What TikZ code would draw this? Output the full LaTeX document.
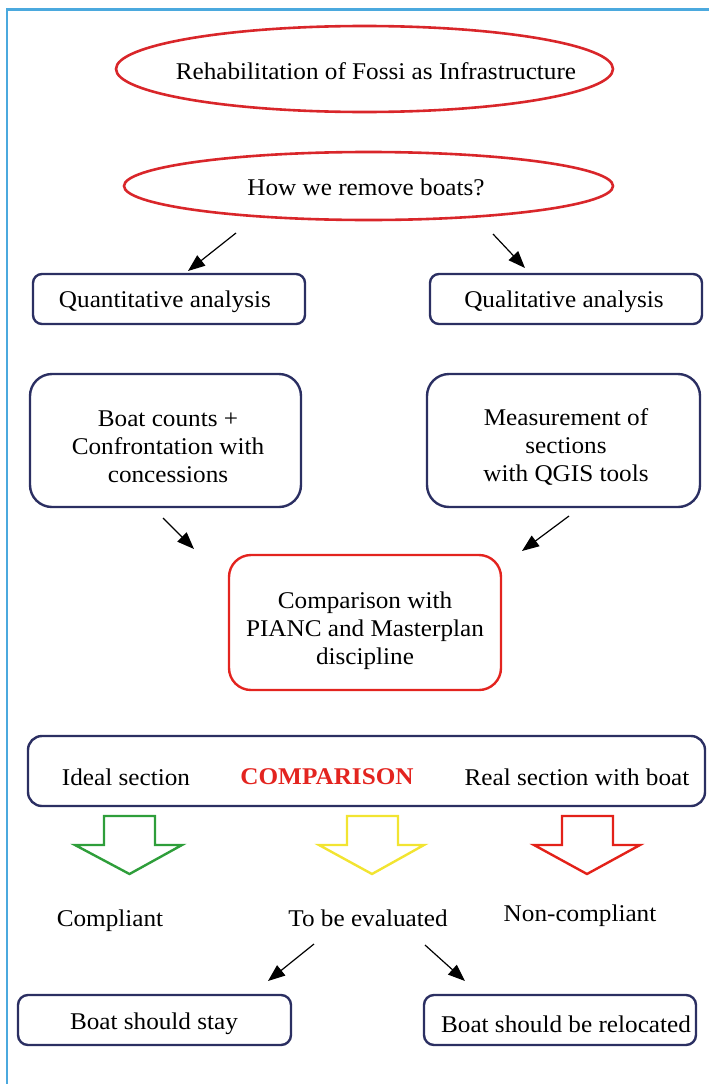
\documentclass[tikz,border=0pt]{standalone}
\usepackage{fontspec}
\setmainfont{Liberation Serif}[FakeStretch=1.05]
\usetikzlibrary{arrows.meta,shapes.geometric}
\definecolor{navy}{HTML}{2B2F62}
\definecolor{boxred}{HTML}{E3241F}
\definecolor{ellred}{HTML}{D9262A}
\definecolor{arrgreen}{HTML}{2E9E3A}
\definecolor{arryellow}{HTML}{F2E431}
\definecolor{arrred}{HTML}{E32119}
\definecolor{frameblue}{HTML}{4BA9DE}
\tikzset{
  txt/.style={font=\fontsize{24}{28}\selectfont, align=center, inner sep=0pt},
  ell/.style={ellipse, draw=ellred, line width=2.6pt, inner sep=0pt},
  navybox/.style={draw=navy, line width=2.4pt, inner sep=0pt},
  redbox/.style={draw=boxred, line width=2.4pt, inner sep=0pt, rounded corners=22pt},
  arr/.style={line width=1.2pt, -{Triangle[length=17pt,width=13pt]}},
  hollow/.style={line width=2.4pt, line join=miter},
}
\begin{document}
\begin{tikzpicture}[x=1pt,y=-1pt]
\useasboundingbox (0,0) rectangle (709,1084);
% frame
\draw[frameblue, line width=2.5pt] (7,1084) -- (7,9.5) -- (709,9.5);

% ellipses
\node[ell, minimum width=497pt, minimum height=86pt] (title) at (364.5,69) {};
\node[txt] (titletxt) at (376,71) {Rehabilitation of Fossi as Infrastructure};
\node[ell, minimum width=489pt, minimum height=68pt] (how) at (368.5,186) {};
\node[txt] (howtxt) at (366,187) {How we remove boats?};

% analysis boxes
\node[navybox, rounded corners=9pt, minimum width=272pt, minimum height=50pt] (quant) at (169,299) {};
\node[txt] (quanttxt) at (165,302) {Quantitative analysis};
\node[navybox, rounded corners=9pt, minimum width=272pt, minimum height=50pt] (qual) at (566,299) {};
\node[txt] (qualtxt) at (564,302) {Qualitative analysis};

% method boxes
\node[navybox, rounded corners=22pt, minimum width=271pt, minimum height=133pt] (counts) at (165.5,440.5) {};
\node[txt] (countstxt) at (168,447) {Boat counts +\\Confrontation with\\concessions};
\node[navybox, rounded corners=22pt, minimum width=273pt, minimum height=133pt] (meas) at (563.5,440.5) {};
\node[txt] (meastxt) at (566,447) {Measurement of\\sections\\with QGIS tools};

% comparison box
\node[redbox, minimum width=272pt, minimum height=135pt] (cmp) at (365,622.5) {};
\node[txt] (cmptxt) at (365,631) {Comparison with\\PIANC and Masterplan\\discipline};

% wide comparison box
\node[navybox, rounded corners=14pt, minimum width=677pt, minimum height=70pt] (wide) at (366.5,771) {};
\node[txt] (ideal) at (126,777) {Ideal section};
\node[txt, text=boxred, font=\fontsize{24}{28}\selectfont\bfseries] (comp) at (327,777) {COMPARISON};
\node[txt] (real) at (577,777) {Real section with boat};

% hollow arrows
\draw[hollow, draw=arrgreen] (104,816) -- (104,845) -- (75,845) -- (129.5,874) -- (182,845) -- (155,845) -- (155,816) -- cycle;
\draw[hollow, draw=arryellow] (347,816) -- (347,845) -- (319,845) -- (372,874) -- (424,845) -- (398,845) -- (398,816) -- cycle;
\draw[hollow, draw=arrred] (562,816) -- (562,845) -- (534,845) -- (587,874) -- (640,845) -- (613,845) -- (613,816) -- cycle;

% outcome labels
\node[txt] (compliant) at (110,921) {Compliant};
\node[txt] (evaluated) at (368,918) {To be evaluated};
\node[txt] (noncompliant) at (580,916) {Non-compliant};

% final boxes
\node[navybox, rounded corners=10pt, minimum width=273pt, minimum height=50pt] (stay) at (154.5,1020) {};
\node[txt] (staytxt) at (154,1024) {Boat should stay};
\node[navybox, rounded corners=10pt, minimum width=272pt, minimum height=50pt] (reloc) at (560,1020) {};
\node[txt] (reloctxt) at (566,1024) {Boat should be relocated};

% arrow end coordinates
\coordinate (a1s) at (236,233); \coordinate (a1e) at (188,271);
\coordinate (a2s) at (493,234); \coordinate (a2e) at (525,268);
\coordinate (a3s) at (163,518); \coordinate (a3e) at (194,549);
\coordinate (a4s) at (569,516); \coordinate (a4e) at (522,551);
\coordinate (a5s) at (314,944); \coordinate (a5e) at (268,981);
\coordinate (a6s) at (425,945); \coordinate (a6e) at (465,981);
\draw[arr] (a1s) -- (a1e);
\draw[arr] (a2s) -- (a2e);
\draw[arr] (a3s) -- (a3e);
\draw[arr] (a4s) -- (a4e);
\draw[arr] (a5s) -- (a5e);
\draw[arr] (a6s) -- (a6e);
\end{tikzpicture}
\end{document}
